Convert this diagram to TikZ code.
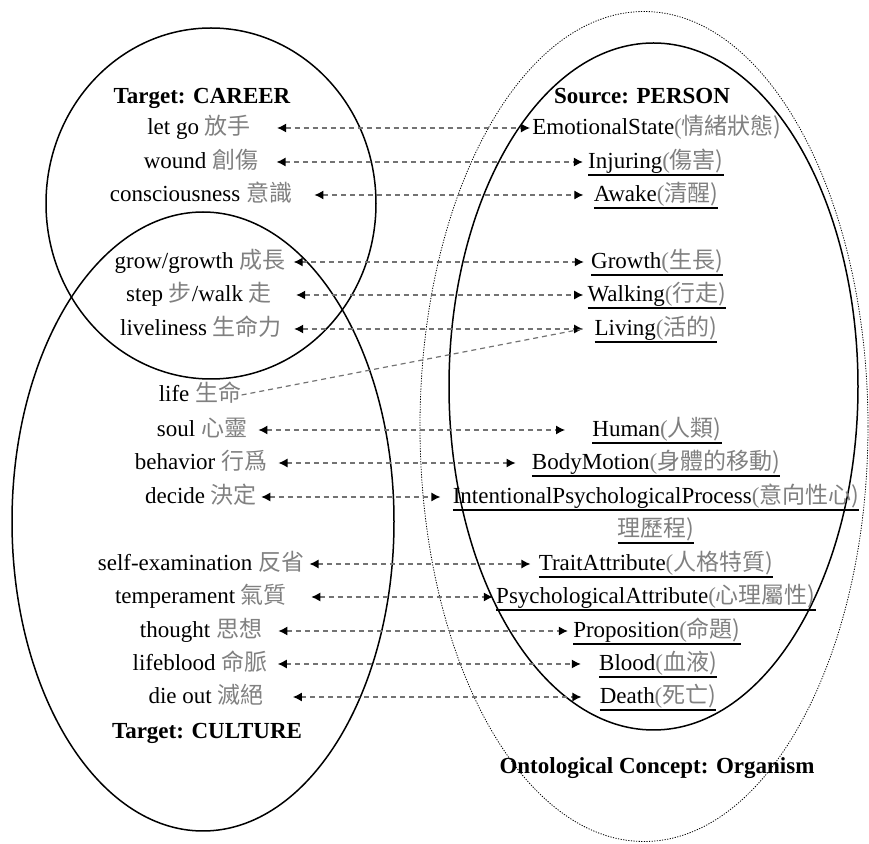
\documentclass[tikz,border=0pt]{standalone}
\usepackage{fontspec}
\setmainfont{Liberation Serif}
\newfontfamily\cjk{Noto Sans CJK TC}
\usetikzlibrary{arrows.meta}
\newcommand\cn[1]{{\color{black!50}\cjk #1}}
\newcommand\pcn[1]{{\color{black!50}(\cjk #1)}}
\newcommand\fs{\fontsize{11.5}{14}\selectfont}
\newcommand\und[1]{\setbox0\hbox{#1}\rlap{\rule[-3.3pt]{\wd0}{0.6pt}}\box0}
\begin{document}
\begin{tikzpicture}[
        x=0.5pt, y=-0.5pt,
        word/.style={
            font=\fs,
            inner sep=0pt,
            text height=9pt,
            text depth=2pt
        },
        title/.style={word, font=\fs\bfseries},
        ring/.style={line width=0.75pt},
        outer/.style={line width=0.4pt, dash pattern=on 0.6pt off 0.7pt},
        link/.style={
            draw=black!55,
            line width=0.6pt,
            dash pattern=on 2.5pt off 2pt,
            arrows={Latex[length=4.5pt,width=4.5pt,color=black]-Latex[length=4.5pt,width=4.5pt,color=black]}
        }
    ]
        \useasboundingbox (0,0) rectangle (869,844);

        % the three domains and the ontological concept
        \draw[ring] (211,203.5) ellipse [x radius=165, y radius=175.5];
        \draw[ring] (203,521.5) ellipse [x radius=191, y radius=309.5];
        \draw[ring] (653.5,386.5) ellipse [x radius=204.5, y radius=343.5];
        \draw[outer] (644,426.5) ellipse [x radius=224, y radius=415];

        \node[title] (career) at (202,97) {Target: CAREER};
        \node[title] (person) at (642,97) {Source: PERSON};
        \node[title] (culture) at (207,732) {Target: CULTURE};
        \node[title] (organism) at (657,767) {Ontological Concept: Organism};

        % target words
        \node[word] (letgo) at (199,128) {let go \cn{放手}};
        \node[word] (wound) at (201,162) {wound \cn{創傷}};
        \node[word] (consc) at (201,195) {consciousness \cn{意識}};
        \node[word] (grow) at (200,262) {grow/growth \cn{成長}};
        \node[word] (walk) at (199,295) {step \cn{步}/walk \cn{走}};
        \node[word] (lively) at (201,329) {liveliness \cn{生命力}};
        \node[word] (life) at (200,395) {life \cn{生命}};
        \node[word] (soul) at (202,430) {soul \cn{心靈}};
        \node[word] (behav) at (201,463) {behavior \cn{行爲}};
        \node[word] (decide) at (201,497) {decide \cn{決定}};
        \node[word] (selfex) at (201,564) {self-examination \cn{反省}};
        \node[word] (temper) at (201,597) {temperament \cn{氣質}};
        \node[word] (thought) at (201,631) {thought \cn{思想}};
        \node[word] (lblood) at (200,664) {lifeblood \cn{命脈}};
        \node[word] (dieout) at (206,697) {die out \cn{滅絕}};

        % source concepts
        \node[word] (emo) at (657,128) {EmotionalState\pcn{情緒狀態}};
        \node[word] (injur) at (656,162) {\und{Injuring\pcn{傷害}}};
        \node[word] (awake) at (656,195) {\und{Awake\pcn{清醒}}};
        \node[word] (growth) at (657,262) {\und{Growth\pcn{生長}}};
        \node[word] (walking) at (657,295) {\und{Walking\pcn{行走}}};
        \node[word] (living) at (656,329) {\und{Living\pcn{活的}}};
        \node[word] (human) at (657,430) {\und{Human\pcn{人類}}};
        \node[word] (motion) at (656,463) {\und{BodyMotion\pcn{身體的移動}}};
        \node[word] (ipp) at (656,497) {\und{IntentionalPsychologicalProcess\pcn{意向性心}}};
        \node[word] (ipp2) at (656,530) {\und{\cn{理歷程)}}};
        \node[word] (trait) at (656,564) {\und{TraitAttribute\pcn{人格特質}}};
        \node[word] (psych) at (656,597) {\und{PsychologicalAttribute\pcn{心理屬性}}};
        \node[word] (prop) at (657,631) {\und{Proposition\pcn{命題}}};
        \node[word] (blood) at (658,664) {\und{Blood\pcn{血液}}};
        \node[word] (death) at (658,697) {\und{Death\pcn{死亡}}};

        \draw[link] ([xshift=13pt]letgo.east) -- ([xshift=-1pt]emo.west);
        \draw[link] ([xshift=9pt]wound.east) -- ([xshift=-2.5pt]injur.west);
        \draw[link] ([xshift=11pt]consc.east) -- ([xshift=-5pt]awake.west);
        \draw[link] ([xshift=4pt]grow.east) -- ([xshift=-3.5pt]growth.west);
        \draw[link] ([xshift=12pt]walk.east) -- ([xshift=-2pt]walking.west);
        \draw[link] ([xshift=6pt]lively.east) -- ([xshift=-5.5pt]living.west);
        \draw[link, arrows=-] (life.east) -- ([xshift=-6pt]living.west);
        \draw[link] ([xshift=5.5pt]soul.east) -- ([xshift=-13.5pt]human.west);
        \draw[link] ([xshift=5.5pt]behav.east) -- ([xshift=-8pt]motion.west);
        \draw[link] ([xshift=2pt]decide.east) -- ([xshift=-6pt]ipp.west);
        \draw[link] ([xshift=2.5pt]selfex.east) -- ([xshift=-4pt]trait.west);
        \draw[link] ([xshift=12pt]temper.east) -- ([xshift=-1.5pt]psych.west);
        \draw[link] ([xshift=8pt]thought.east) -- ([xshift=-2.5pt]prop.west);
        \draw[link] ([xshift=5pt]lblood.east) -- ([xshift=-9pt]blood.west);
        \draw[link] ([xshift=14.5pt]dieout.east) -- ([xshift=-9pt]death.west);
    \end{tikzpicture}
\end{document}
